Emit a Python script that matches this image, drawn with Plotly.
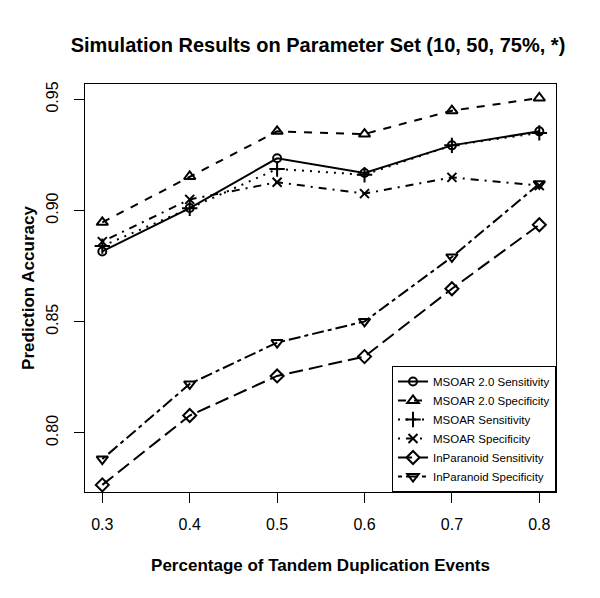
import plotly.graph_objects as go

x_vals = [0.3, 0.4, 0.5, 0.6, 0.7, 0.8]

msoar2_sens = [0.8816, 0.9011, 0.9235, 0.9169, 0.9293, 0.9356]
msoar2_spec = [0.8947, 0.9153, 0.9356, 0.9344, 0.9449, 0.9506]
msoar_sens = [0.8840, 0.9010, 0.9187, 0.9161, 0.9293, 0.9349]
msoar_spec = [0.8860, 0.9050, 0.9127, 0.9076, 0.9149, 0.9112]
inpara_sens = [0.7766, 0.8078, 0.8256, 0.8343, 0.8648, 0.8936]
inpara_spec = [0.7882, 0.8220, 0.8406, 0.8501, 0.8791, 0.9120]

names = ["MSOAR 2.0 Sensitivity", "MSOAR 2.0 Specificity", "MSOAR Sensitivity",
         "MSOAR Specificity", "InParanoid Sensitivity", "InParanoid Specificity"]
series = [msoar2_sens, msoar2_spec, msoar_sens, msoar_spec, inpara_sens, inpara_spec]
symbols = ["circle-open", "triangle-up-open", "cross-thin-open", "x-thin-open",
           "diamond-open", "triangle-down-open"]
dashes = ["solid", "8px,8px", "2px,6px", "2px,6px,8px,6px", "14px,6px", "4px,4px,12px,4px"]
sizes = [8, 10, 11, 9, 10, 10]

x_ticks = [0.3, 0.4, 0.5, 0.6, 0.7, 0.8]
y_ticks = [0.80, 0.85, 0.90, 0.95]

FONT = "Liberation Sans, Arial, Helvetica, sans-serif"

fig = go.Figure()
for name, ys, sym, dash, sz in zip(names, series, symbols, dashes, sizes):
    fig.add_trace(go.Scatter(
        x=x_vals, y=ys, name=name, mode="lines+markers",
        line=dict(color="black", width=2, dash=dash),
        marker=dict(symbol=sym, size=sz, color="black",
                    line=dict(color="black", width=2)),
    ))

fig.update_layout(
    width=600, height=598,
    margin=dict(l=85, r=44, t=84, b=106),
    paper_bgcolor="white", plot_bgcolor="white",
    font=dict(family=FONT, color="black", size=16),
    title=dict(text="<b>Simulation Results on Parameter Set (10, 50, 75%, *)</b>",
               x=0.53, xanchor="center", y=0.925, yanchor="middle",
               font=dict(size=20)),
    showlegend=True,
    legend=dict(x=1, xanchor="right", y=0, yanchor="bottom",
                bgcolor="white", bordercolor="black", borderwidth=1,
                font=dict(size=11.5), tracegroupgap=0, itemwidth=30),
)
fig.update_xaxes(
    range=[0.2802, 0.8191], tickvals=x_ticks, tickformat=".1f",
    ticks="outside", ticklen=10, tickcolor="black", tickwidth=1,
    showline=True, linecolor="black", linewidth=1, mirror=True,
    showgrid=False, zeroline=False, tickfont=dict(size=16),
    ticklabelstandoff=8, automargin=False,
    title=dict(text="<b>Percentage of Tandem Duplication Events</b>",
               font=dict(size=17), standoff=26),
)
fig.update_yaxes(
    range=[0.7734, 0.9569], tickvals=y_ticks, tickformat=".2f",
    ticks="outside", ticklen=10, tickcolor="black", tickwidth=1,
    showline=True, linecolor="black", linewidth=1, mirror=True,
    showgrid=False, zeroline=False, tickfont=dict(size=16), tickangle=-90,
    ticklabelstandoff=10, automargin=False,
    title=dict(text="<b>Prediction Accuracy</b>", font=dict(size=17), standoff=4),
)

fig.write_html("out.html", config={"displayModeBar": False},
               post_script="document.body.style.margin='0';")
